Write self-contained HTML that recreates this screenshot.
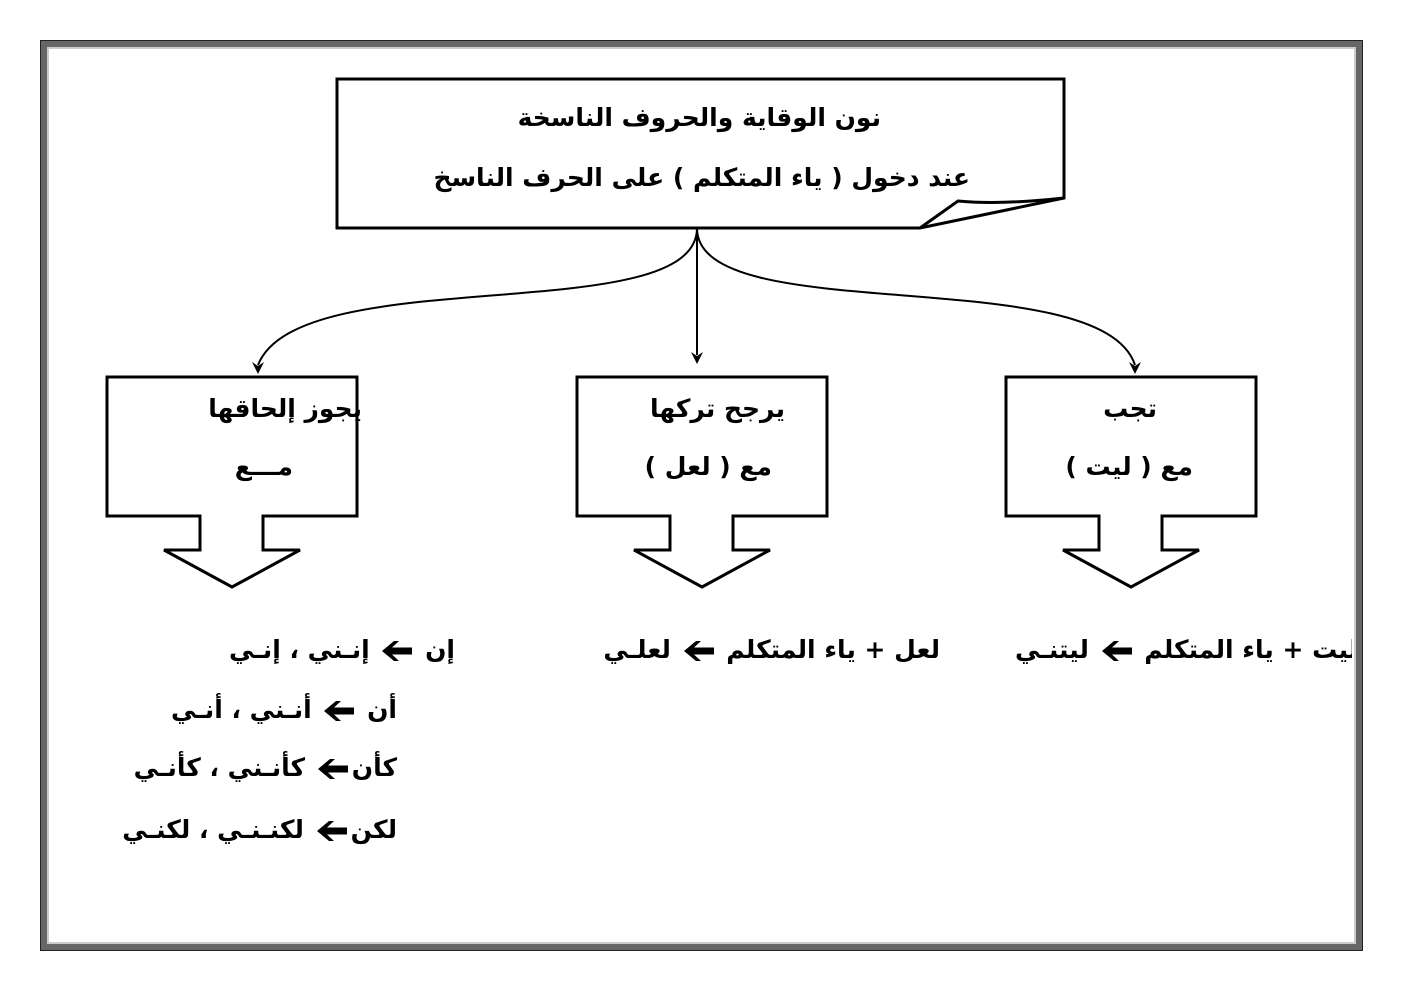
<!DOCTYPE html>
<html><head><meta charset="utf-8"><style>
body{margin:0;width:1403px;height:992px;background:#fff;position:relative;overflow:hidden}
.t{position:absolute;font-family:"DejaVu Sans","Liberation Sans",sans-serif;font-weight:bold;font-size:25px;line-height:32px;white-space:nowrap;direction:rtl;color:#000}
.a{display:inline-block;width:30px;height:20px;vertical-align:middle;margin:0 4px}
#clip{position:absolute;left:0;top:0;width:1352px;height:992px;overflow:hidden}
</style></head><body>
<svg width="1403" height="992" style="position:absolute;left:0;top:0">
<rect x="43.5" y="43.5" width="1316" height="904" fill="none" stroke="#666" stroke-width="7"/>
<rect x="40.5" y="40.5" width="1322" height="910" fill="none" stroke="#222" stroke-width="1"/>
<rect x="48" y="48" width="1307" height="895" fill="none" stroke="#ccc" stroke-width="2"/>
<path d="M337,79 H1064 V198 L920,228 H337 Z" fill="#fff" stroke="#000" stroke-width="3"/>
<path d="M920,228 L958,201 Q1000,205 1064,198" fill="none" stroke="#000" stroke-width="3"/>
<g fill="none" stroke="#000" stroke-width="2">
<path d="M697,228 C697,330 300,260 258,365"/>
<path d="M697,228 V355"/>
<path d="M697,228 C697,330 1100,260 1135,365"/>
</g>
<g fill="#000">
<path d="M252,362 L258,374 L264,362 L258,366 Z"/>
<path d="M691,352 L697,364 L703,352 L697,356 Z"/>
<path d="M1129,362 L1135,374 L1141,362 L1135,366 Z"/>
</g>
<g fill="#fff" stroke="#000" stroke-width="3">
<path d="M107,377 H357 V516 H263 V550 H300 L232,587 L164,550 H200 V516 H107 Z"/>
<path d="M577,377 H827 V516 H733 V550 H770 L702,587 L634,550 H670 V516 H577 Z"/>
<path d="M1006,377 H1256 V516 H1162 V550 H1199 L1131,587 L1063,550 H1099 V516 H1006 Z"/>
</g>
<defs><symbol id="ar" viewBox="0 0 30 20"><path d="M0,10 L12,0 H17 L10,6.5 H30 V13.5 H10 L17,20 H12 Z" fill="#000"/></symbol></defs>
</svg>
<div class="t" style="right:522px;top:102px">نون الوقاية والحروف الناسخة</div>
<div class="t" style="right:433px;top:162px">عند دخول ( ياء المتكلم ) على الحرف الناسخ</div>
<div class="t" style="right:1041px;top:393px">يجوز إلحاقها</div>
<div class="t" style="right:1110px;top:451px">مـــع</div>
<div class="t" style="right:618px;top:393px">يرجح تركها</div>
<div class="t" style="right:631px;top:451px">مع ( لعل )</div>
<div class="t" style="right:246px;top:393px">تجب</div>
<div class="t" style="right:210px;top:451px">مع ( ليت )</div>
<div id="clip">
<div class="t" style="left:1015px;top:634px">ليت + ياء المتكلم <svg class="a"><use href="#ar"/></svg> ليتنـي</div>
</div>
<div class="t" style="right:463px;top:634px">لعل + ياء المتكلم <svg class="a"><use href="#ar"/></svg> لعلـي</div>
<div class="t" style="right:948px;top:634px">إن <svg class="a"><use href="#ar"/></svg> إنـني ، إنـي</div>
<div class="t" style="right:1006px;top:694px">أن <svg class="a"><use href="#ar"/></svg> أنـني ، أنـي</div>
<div class="t" style="right:1006px;top:752px">كأن<svg class="a"><use href="#ar"/></svg> كأنـني ، كأنـي</div>
<div class="t" style="right:1006px;top:814px">لكن<svg class="a"><use href="#ar"/></svg> لكنـنـي ، لكنـي</div>
</body></html>
